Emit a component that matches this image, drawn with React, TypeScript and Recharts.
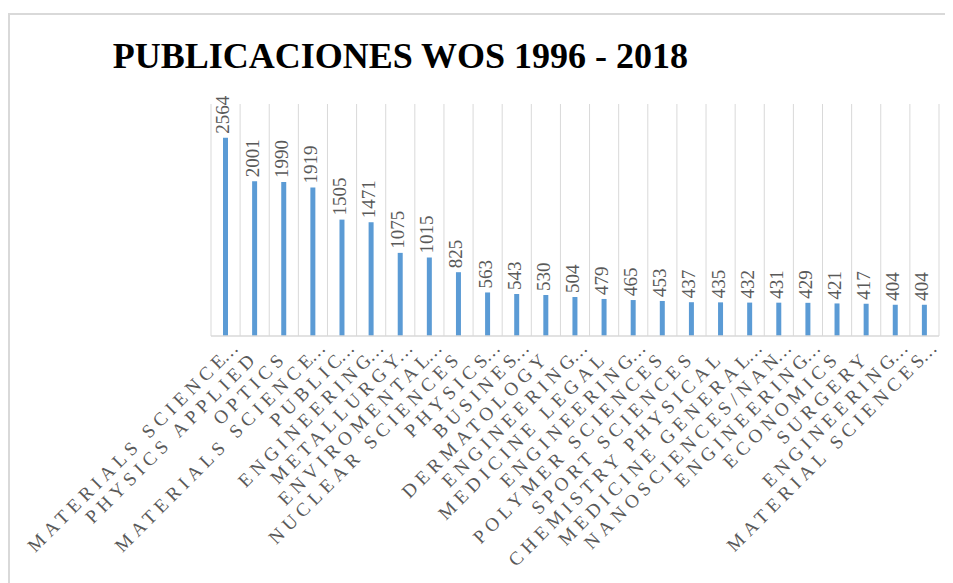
import React from 'react';
import { BarChart, Bar, XAxis, YAxis, CartesianGrid, LabelList } from 'recharts';

const categories: string[] = [
  'MATERIALS SCIENCE...',
  'PHYSICS APPLIED',
  'OPTICS',
  'MATERIALS SCIENCE...',
  'PUBLIC...',
  'ENGINEERING...',
  'METALLURGY...',
  'ENVIROMENTAL...',
  'NUCLEAR SCIENCES',
  'PHYSICS...',
  'BUSINES...',
  'DERMATOLOGY',
  'ENGINEERING...',
  'MEDICINE LEGAL',
  'ENGINEERING...',
  'POLYMER SCIENCES',
  'SPORT SCIENCES',
  'CHEMISTRY PHYSICAL',
  'MEDICINE GENERAL...',
  'NANOSCIENCES/NAN...',
  'ENGINEERING...',
  'ECONOMICS',
  'SURGERY',
  'ENGINEERING...',
  'MATERIAL SCIENCES...',
];

const values: number[] = [
  2564, 2001, 1990, 1919, 1505, 1471, 1075, 1015, 825, 563, 543, 530, 504,
  479, 465, 453, 437, 435, 432, 431, 429, 421, 417, 404, 404,
];

const yDomain: [number, number] = [0, 3000];
const title = 'PUBLICACIONES WOS 1996 - 2018';

const data = categories.map((name, i) => ({ key: `c${i}`, name, value: values[i] }));

const SERIF = "'Liberation Serif', 'Times New Roman', serif";
const GREY_TEXT = '#595959';
const GRID = '#D9D9D9';
const LS = 5;
const CAT_FONT = 19;

const CatTick = (props: any) => {
  const { x, y, payload } = props;
  const full: string = data[payload.index]?.name ?? String(payload.value);
  const hasDots = full.endsWith('...');
  const main = hasDots ? full.slice(0, -3) : full;
  const ax = x + 1 + LS * 0.707;
  const ay = y + 18 - LS * 0.707;
  const rot = `rotate(-45, ${ax}, ${ay})`;
  return (
    <g>
      <text
        x={ax}
        y={ay}
        transform={rot}
        textAnchor="end"
        fontFamily={SERIF}
        fontSize={CAT_FONT}
        letterSpacing={LS}
        fill={GREY_TEXT}
      >
        {main}
      </text>
      {hasDots && (
        <text
          x={ax - LS}
          y={ay}
          transform={rot}
          textAnchor="start"
          fontFamily={SERIF}
          fontSize={CAT_FONT}
          letterSpacing={1.5}
          fill={GREY_TEXT}
        >
          ...
        </text>
      )}
    </g>
  );
};

const ValueLabel = (props: any) => {
  const { x, y, width, value } = props;
  const cx = x + width / 2 + 4;
  const cy = y - 4;
  return (
    <text
      x={cx}
      y={cy}
      transform={`rotate(-90, ${cx}, ${cy})`}
      textAnchor="start"
      fontFamily={SERIF}
      fontSize={19}
      fill={GREY_TEXT}
    >
      {value}
    </text>
  );
};

const gridGen = ({ offset }: any) => {
  const n = data.length;
  const step = offset.width / n;
  const arr: number[] = [];
  for (let i = 0; i <= n; i++) arr.push(offset.left + i * step);
  return arr;
};

export default function App() {
  return (
    <div style={{ position: 'relative', width: 945, height: 575 }}>
      <div
        style={{
          position: 'absolute',
          left: 0,
          top: 5,
          width: 960,
          height: 600,
          borderLeft: `2px solid ${GRID}`,
          borderTop: `2px solid ${GRID}`,
          boxSizing: 'border-box',
        }}
      />
      <div style={{ position: 'absolute', left: 0, top: 0 }}>
        <BarChart
          width={945}
          height={575}
          data={data}
          margin={{ top: 96, right: 14, left: 203, bottom: 0 }}
          barCategoryGap={0}
        >
          <CartesianGrid
            horizontal={false}
            vertical={true}
            stroke={GRID}
            strokeWidth={1}
            verticalCoordinatesGenerator={gridGen}
          />
          <XAxis
            dataKey="key"
            interval={0}
            height={247}
            tickLine={false}
            axisLine={{ stroke: GRID, strokeWidth: 1.5 }}
            tick={<CatTick />}
          />
          <YAxis hide domain={yDomain} type="number" />
          <Bar dataKey="value" fill="#5B9BD5" barSize={5} isAnimationActive={false}>
            <LabelList dataKey="value" content={<ValueLabel />} />
          </Bar>
        </BarChart>
      </div>
      <svg
        width={945}
        height={575}
        style={{ position: 'absolute', left: 0, top: 0, pointerEvents: 'none' }}
      >
        <text
          x={104.7}
          y={59.7}
          fontFamily={SERIF}
          fontWeight="bold"
          fontSize={36}
          letterSpacing={0}
          fill="#000000"
        >
          {title}
        </text>
      </svg>
    </div>
  );
}
